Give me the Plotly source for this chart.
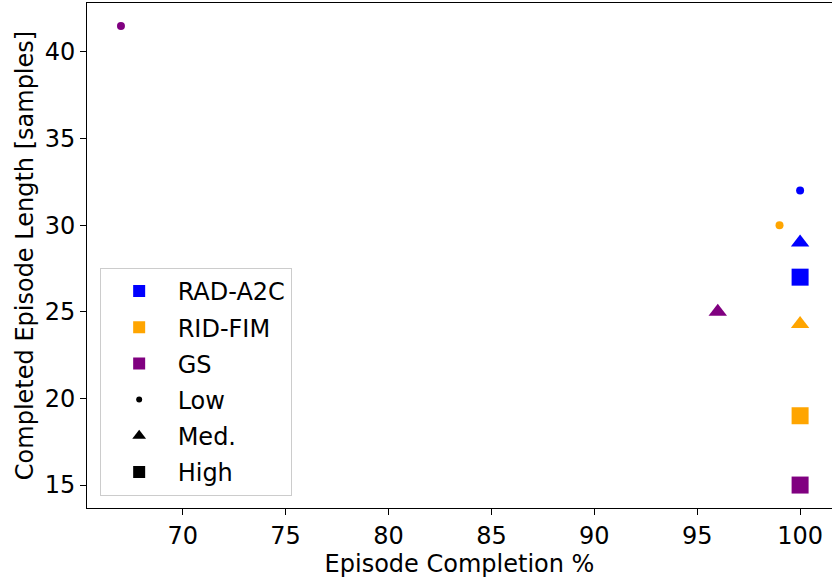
import plotly.graph_objects as go

# Results per method at three difficulty levels (Low, Med., High)
methods = ["RAD-A2C", "RID-FIM", "GS"]
levels = ["Low", "Med.", "High"]
completion_pct = {
    "RAD-A2C": [100, 100, 100],
    "RID-FIM": [99, 100, 100],
    "GS": [67, 96, 100],
}
episode_length = {
    "RAD-A2C": [32, 29, 27],
    "RID-FIM": [30, 24.3, 19],
    "GS": [41.5, 25, 15],
}
x_ticks = [70, 75, 80, 85, 90, 95, 100]
y_ticks = [15, 20, 25, 30, 35, 40]

colors = {"RAD-A2C": "#0000ff", "RID-FIM": "#ffa500", "GS": "#800080"}
symbols = {"Low": "circle", "Med.": "triangle-up", "High": "square"}
sizes = {"Low": 8, "Med.": 16, "High": 17}
legend_sizes = {"Low": 6, "Med.": 12, "High": 12}

FONT = "DejaVu Sans"

fig = go.Figure()

for m in methods:
    for i, lv in enumerate(levels):
        fig.add_trace(go.Scatter(
            x=[completion_pct[m][i]], y=[episode_length[m][i]],
            mode="markers",
            marker=dict(color=colors[m], symbol=symbols[lv], size=sizes[lv],
                        line=dict(width=0)),
            showlegend=False, hoverinfo="x+y", name=f"{m} {lv}",
        ))

# Legend entries: colour per method, marker shape per level
for k, m in enumerate(methods):
    fig.add_trace(go.Scatter(
        x=[None], y=[None], mode="markers", name=m,
        marker=dict(color=colors[m], symbol="square", size=12),
        legendgroup=f"g{k}",
    ))
for k, lv in enumerate(levels):
    fig.add_trace(go.Scatter(
        x=[None], y=[None], mode="markers", name=lv,
        marker=dict(color="black", symbol=symbols[lv], size=legend_sizes[lv]),
        legendgroup=f"h{k}",
    ))

fig.update_layout(
    width=832, height=578,
    margin=dict(l=87, r=0, t=3, b=70),
    plot_bgcolor="white", paper_bgcolor="white",
    font=dict(family=FONT, size=24, color="black"),
    legend=dict(
        x=0.017, y=0.024, xanchor="left", yanchor="bottom",
        bgcolor="white", bordercolor="#cccccc", borderwidth=1,
        font=dict(family=FONT, size=24, color="black"),
        itemwidth=67, tracegroupgap=2, traceorder="grouped",
    ),
    showlegend=True,
)

fig.update_xaxes(
    range=[65.35, 101.55], tickvals=x_ticks, ticktext=[str(v) for v in x_ticks],
    showgrid=False, zeroline=False,
    showline=True, linecolor="black", linewidth=1, mirror=True,
    ticks="outside", ticklen=6, tickwidth=1.2, tickcolor="black",
    tickfont=dict(family=FONT, size=24),
    title=dict(text="Episode Completion %", font=dict(family=FONT, size=24), standoff=8),
)
fig.update_yaxes(
    range=[13.675, 42.825], tickvals=y_ticks, ticktext=[str(v) for v in y_ticks],
    showgrid=False, zeroline=False,
    showline=True, linecolor="black", linewidth=1, mirror=False,
    ticks="outside", ticklen=6, tickwidth=1.2, tickcolor="black",
    tickfont=dict(family=FONT, size=24),
    title=dict(text="Completed Episode Length [samples]", font=dict(family=FONT, size=24), standoff=4),
)

fig.write_html("out.html")
